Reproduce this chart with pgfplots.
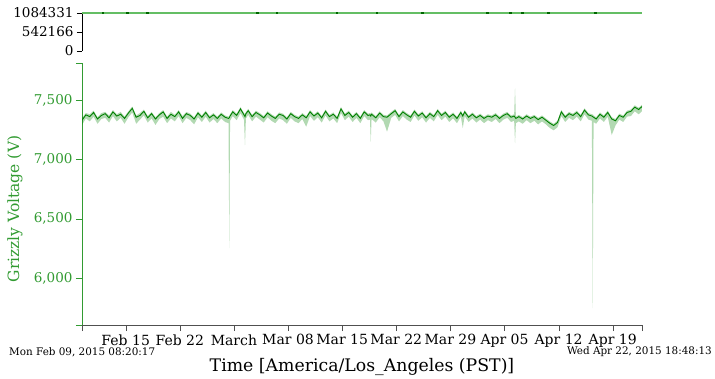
\documentclass[border=0pt]{standalone}
\usepackage{fontspec}
\setmainfont{DejaVu Serif}
\usepackage{pgfplots}
\pgfplotsset{compat=1.18}
\usepackage{pgfplotstable}
\definecolor{linegreen}{RGB}{0,128,0}
\definecolor{axgreen}{RGB}{50,155,50}
\definecolor{toplinegreen}{RGB}{100,190,100}
\definecolor{axgray}{RGB}{80,80,80}

\pgfplotstableread{
d v lo hi
0.35 7330 7290 7350
0.85 7375 7345 7390
1.35 7360 7320 7380
1.85 7395 7360 7410
2.35 7340 7300 7355
2.85 7370 7340 7390
3.35 7385 7350 7400
3.85 7350 7310 7370
4.35 7400 7365 7415
4.85 7365 7320 7380
5.35 7380 7350 7400
5.85 7345 7300 7360
6.35 7390 7355 7405
6.85 7430 7395 7445
7.35 7355 7300 7370
7.85 7370 7335 7390
8.35 7405 7370 7420
8.85 7350 7310 7365
9.35 7385 7345 7400
9.85 7340 7290 7355
10.35 7375 7340 7390
10.85 7400 7360 7415
11.35 7345 7305 7360
11.85 7380 7345 7400
12.35 7360 7320 7375
12.85 7400 7365 7415
13.35 7345 7305 7365
13.85 7385 7350 7400
14.35 7370 7330 7385
14.85 7340 7295 7355
15.35 7390 7355 7405
15.85 7355 7315 7370
16.35 7395 7360 7410
16.85 7350 7310 7365
17.35 7375 7340 7390
17.85 7345 7305 7360
18.35 7380 7345 7395
18.85 7355 7315 7370
19.30 7345 7305 7360
19.40 7350 6252 7365
19.50 7365 7325 7380
19.85 7400 7365 7415
20.35 7370 7330 7385
20.85 7425 7390 7440
21.30 7375 7335 7390
21.43 7360 7120 7380
21.55 7385 7345 7400
21.85 7410 7375 7425
22.35 7360 7320 7375
22.85 7395 7360 7410
23.35 7375 7335 7390
23.85 7350 7310 7365
24.35 7390 7355 7405
24.85 7365 7325 7380
25.35 7345 7305 7360
25.85 7380 7345 7395
26.35 7370 7330 7385
26.85 7340 7300 7355
27.35 7385 7350 7400
27.85 7360 7320 7375
28.35 7345 7305 7360
28.85 7375 7340 7390
29.35 7350 7275 7365
29.85 7400 7365 7415
30.35 7365 7325 7380
30.85 7390 7355 7405
31.35 7350 7310 7365
31.85 7405 7370 7420
32.35 7360 7320 7375
32.85 7380 7345 7395
33.35 7345 7305 7360
33.85 7425 7390 7440
34.35 7370 7330 7385
34.85 7395 7360 7410
35.35 7355 7315 7370
35.85 7385 7350 7400
36.35 7345 7305 7360
36.85 7400 7365 7415
37.35 7370 7330 7385
37.60 7375 7335 7390
37.70 7365 7148 7385
37.80 7380 7340 7395
38.35 7350 7310 7365
38.85 7390 7355 7405
39.35 7360 7320 7375
39.80 7355 7233 7370
40.35 7385 7350 7400
40.85 7410 7375 7425
41.35 7360 7320 7375
41.85 7400 7365 7415
42.35 7375 7335 7390
42.85 7355 7315 7370
43.35 7405 7370 7420
43.85 7365 7325 7380
44.35 7390 7355 7405
44.85 7350 7310 7365
45.35 7385 7350 7400
45.85 7360 7320 7375
46.35 7410 7375 7425
46.85 7370 7330 7385
47.35 7395 7360 7410
47.85 7355 7315 7370
48.35 7380 7345 7395
48.85 7345 7305 7360
49.35 7395 7360 7410
49.60 7365 7264 7380
49.85 7400 7365 7415
50.35 7355 7315 7370
50.85 7380 7345 7395
51.35 7350 7310 7365
51.85 7370 7335 7385
52.35 7345 7305 7360
52.85 7365 7330 7380
53.35 7355 7315 7370
53.85 7375 7340 7390
54.35 7345 7305 7360
54.85 7370 7335 7385
55.35 7385 7350 7400
55.85 7355 7315 7370
56.25 7365 7325 7380
56.36 7355 7137 7598
56.47 7345 7305 7360
56.85 7360 7320 7375
57.35 7340 7300 7355
57.85 7365 7330 7380
58.35 7345 7305 7360
58.85 7360 7325 7375
59.35 7335 7295 7350
59.85 7355 7320 7370
60.35 7330 7295 7345
60.85 7305 7265 7320
61.35 7285 7245 7300
61.85 7310 7270 7325
62.35 7400 7365 7415
62.85 7355 7315 7370
63.35 7385 7350 7400
63.85 7370 7330 7385
64.35 7395 7360 7410
64.85 7360 7320 7375
65.35 7415 7380 7430
65.85 7375 7335 7390
66.30 7365 7325 7380
66.41 7360 5747 7380
66.52 7355 7315 7370
66.85 7340 7300 7355
67.35 7380 7345 7395
67.85 7355 7315 7370
68.35 7395 7360 7410
68.87 7340 7205 7355
69.35 7325 7285 7340
69.85 7370 7335 7385
70.35 7355 7315 7370
70.85 7395 7360 7410
71.35 7405 7365 7420
71.85 7440 7405 7455
72.35 7420 7380 7435
72.78 7445 7405 7460
}\volt

\begin{document}
\begin{tikzpicture}
\useasboundingbox (0pt,0pt) rectangle (715pt,-379pt);

% top panel
\begin{axis}[
  at={(82pt,-51pt)}, anchor=south west, scale only axis,
  width=560pt, height=38pt,
  xmin=0.3474, xmax=72.7835, ymin=0, ymax=1084331,
  hide x axis, axis y line*=left,
  y axis line style={black},
  ytick={0,542166,1084331}, yticklabels={0,542166,1084331},
  scaled y ticks=false,
  tick align=outside, major tick length=5pt,
  ytick style={black},
  yticklabel style={font=\fontsize{13.5}{15}\selectfont, text=black},
  clip=false,
]
\addplot[toplinegreen, line width=1.6pt] coordinates {(0.3474,1084331) (72.7835,1084331)};
\addplot[only marks, mark=square*, mark size=0.7pt, color=linegreen!80!black]
  coordinates {(3.06,1084331) (6.17,1084331) (8.76,1084331) (22.99,1084331) (25.57,1084331)
  (33.33,1084331) (38.5,1084331) (44.33,1084331) (52.74,1084331) (55.72,1084331)
  (57.27,1084331) (60.63,1084331) (66.71,1084331)};
\end{axis}

% main panel: band and axes
\begin{axis}[
  at={(82pt,-325pt)}, anchor=south west, scale only axis,
  width=560pt, height=262pt,
  xmin=0.3474, xmax=72.7835, ymin=5604, ymax=7812,
  axis x line*=bottom, axis y line*=left,
  x axis line style={axgray}, y axis line style={axgreen},
  tick align=outside, major tick length=6pt,
  xtick={6,13,20,27,34,41,48,55,62,69},
  xticklabels={Feb 15,Feb 22,March,Mar 08,Mar 15,Mar 22,Mar 29,Apr 05,Apr 12,Apr 19},
  extra x ticks={0.3474,72.7835}, extra x tick labels={},
  ytick={6000,6500,7000,7500},
  extra y ticks={5604,7812}, extra y tick labels={},
  xtick style={axgray}, ytick style={axgreen},
  /pgf/number format/assume math mode=true,
  /pgf/number format/1000 sep={,},
  xticklabel style={font=\fontsize{14}{16}\selectfont, text=black},
  yticklabel style={font=\fontsize{13.5}{15}\selectfont, text=axgreen},
  stack plots=y,
]
\addplot[draw=none, forget plot] table[x=d,y=lo]{\volt};
\addplot[fill=linegreen, fill opacity=0.3, draw=none] table[x=d,y expr=\thisrow{hi}-\thisrow{lo}]{\volt} \closedcycle;
\end{axis}

% main panel: line
\begin{axis}[
  at={(82pt,-325pt)}, anchor=south west, scale only axis,
  width=560pt, height=262pt,
  xmin=0.3474, xmax=72.7835, ymin=5604, ymax=7812,
  hide axis,
]
\addplot[linegreen, line width=0.9pt] table[x=d,y=v]{\volt};
\end{axis}

\node[rotate=90, text=axgreen, font=\fontsize{15.5}{18}\selectfont] at (15pt,-209pt) {Grizzly Voltage (V)};
\node[font=\fontsize{17.3}{20}\selectfont] at (362pt,-367pt) {Time [America/Los\_Angeles (PST)]};
\node[anchor=west, inner sep=0pt, font=\fontsize{10.4}{12}\selectfont] at (9pt,-352pt) {Mon Feb 09, 2015 08:20:17};
\node[anchor=east, inner sep=0pt, font=\fontsize{10.4}{12}\selectfont] at (712pt,-352pt) {Wed Apr 22, 2015 18:48:13};
\end{tikzpicture}
\end{document}
